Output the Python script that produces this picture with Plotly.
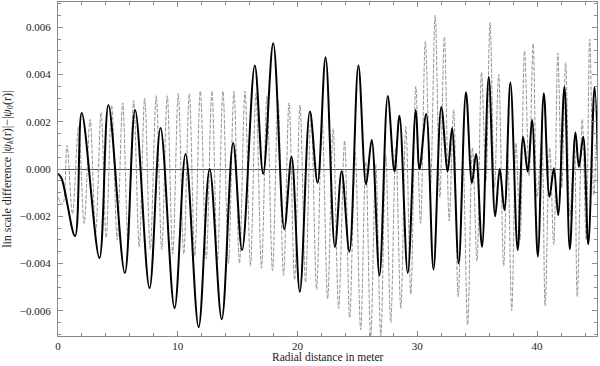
import plotly.graph_objects as go

# Extrema (radial distance in m, lin scale difference)
black_r = [0.0, 0.3, 1.42, 1.98, 3.46, 4.21, 5.58, 6.44, 7.64, 8.56, 9.73, 10.65,
           11.74, 12.66, 13.67, 14.62, 15.37, 16.43, 17.13, 17.97, 18.89, 19.5,
           20.19, 21.03, 21.67, 22.34, 23.12, 23.68, 24.33, 25.08, 25.72, 26.19,
           26.84, 27.53, 28.09, 28.51, 29.2, 29.87, 30.18, 30.74, 31.35, 32.0,
           32.53, 32.9, 33.45, 34.06, 34.56, 34.9, 35.4, 35.96, 36.5, 36.88,
           37.27, 37.77, 38.38, 38.83, 39.22, 39.58, 40.06, 40.56, 41.03, 41.4,
           41.76, 42.28, 42.73, 43.2, 43.49, 43.85, 44.27, 44.8, 45.2]
black_y = [-0.0002, -0.0004, -0.00284, 0.00237, -0.00377, 0.00271, -0.0044, 0.0025,
           -0.00504, 0.00174, -0.00589, 0.00064, -0.0067, 0.0, -0.00636, 0.0011,
           -0.00343, 0.00438, -0.0002, 0.00532, -0.00255, 0.00052, -0.0052, 0.00243,
           -0.00058, 0.00473, -0.0033, -0.0001, -0.0035, 0.00438, -0.00065, 0.00123,
           -0.0045, 0.00309, -0.0001, 0.00225, -0.0044, 0.0025, 0.0, 0.00233,
           -0.00425, 0.00263, -0.0001, 0.00173, -0.004, 0.00325, -0.00058, 0.00063,
           -0.0033, 0.0039, -0.002, 0.0, -0.00174, 0.00366, -0.00343, 0.00135,
           -0.00012, 0.00208, -0.0037, 0.00321, -0.00118, 0.00003, -0.00195, 0.00348,
           -0.0034, 0.00154, 0.0001, 0.00137, -0.00318, 0.00347, -0.0023]

gray_r = [0.0, 0.39, 0.75, 1.21, 1.72, 2.18, 2.68, 3.14, 3.60, 4.02, 4.48, 4.94,
          5.40, 5.86, 6.32, 6.78, 7.24, 7.70, 8.20, 8.66, 9.12, 9.58, 10.04, 10.50,
          10.96, 11.42, 11.88, 12.38, 12.85, 13.31, 13.77, 14.23, 14.69, 15.15,
          15.61, 16.07, 16.53, 16.99, 17.45, 17.91, 18.37, 18.83, 19.29, 19.75,
          20.21, 20.67, 21.13, 21.59, 22.05, 22.51, 22.97, 23.43, 23.93, 24.35,
          24.81, 25.27, 25.69, 26.11, 26.53, 26.95, 27.36, 27.78, 28.20, 28.62,
          29.04, 29.46, 29.87, 30.27, 30.67, 31.09, 31.49, 31.88, 32.26, 32.66,
          33.03, 33.41, 33.81, 34.20, 34.60, 34.98, 35.36, 35.73, 36.07, 36.44,
          36.79, 37.21, 37.53, 37.88, 38.24, 38.58, 38.95, 39.33, 39.67, 40.0,
          40.38, 40.67, 41.05, 41.39, 41.73, 42.06, 42.38, 42.74, 43.10, 43.35,
          43.77, 44.10, 44.39, 44.73, 45.06]
gray_y = [-0.0012, -0.0015, 0.0010, -0.0019, 0.0018, -0.0023, 0.0021, -0.0027,
          0.0024, -0.0029, 0.0027, -0.0030, 0.0028, -0.0032, 0.0029, -0.0033,
          0.0030, -0.0034, 0.0031, -0.0034, 0.0031, -0.0036, 0.0032, -0.0036,
          0.0032, -0.0037, 0.0033, -0.0038, 0.0033, -0.0039, 0.0033, -0.0040,
          0.0033, -0.0040, 0.0033, -0.0041, 0.0032, -0.0042, 0.0031, -0.0043,
          0.0029, -0.0045, 0.0028, -0.0047, 0.0027, -0.0048, 0.0024, -0.0051,
          0.0021, -0.0055, 0.0017, -0.0059, 0.0012, -0.0063, 0.0007, -0.0068,
          0.0003, -0.0071, 0.0002, -0.0071, 0.0006, -0.0065, 0.0009, -0.0059,
          0.0018, -0.0053, 0.0035, -0.0023, 0.0054, -0.0008, 0.0065, -0.0012,
          0.0056, -0.0022, 0.0025, -0.0054, 0.0003, -0.0066, 0.0009, -0.0039,
          0.0041, -0.0005, 0.0062, -0.0008, 0.0040, -0.0041, 0.0008, -0.0060,
          0.0011, -0.0030, 0.0050, -0.0003, 0.0053, -0.0012, 0.0012, -0.0058,
          0.0009, -0.0032, 0.0049, -0.0008, 0.0045, -0.0020, 0.0012, -0.0054,
          0.0021, -0.0030, 0.0055, -0.0011, 0.0030]

x_ticks = [0, 10, 20, 30, 40]
y_ticks = [-0.006, -0.004, -0.002, 0.0, 0.002, 0.004, 0.006]

FONT = 'Liberation Serif'
FRAME = '#8a8a8a'

fig = go.Figure()

fig.add_trace(go.Scatter(
    x=gray_r, y=gray_y, mode='lines',
    line=dict(color='#959595', width=1, dash='4px,1.5px', shape='spline', smoothing=1.0),
    hoverinfo='skip'
))

fig.add_trace(go.Scatter(
    x=black_r, y=black_y, mode='lines',
    line=dict(color='black', width=2, shape='spline', smoothing=1.0),
    hoverinfo='skip'
))

axis_common = dict(
    showgrid=False, automargin=False,
    showline=True, linecolor=FRAME, linewidth=1, mirror='allticks',
    ticks='inside', ticklen=5, tickcolor=FRAME, tickwidth=1,
    tickfont=dict(family=FONT, size=11, color='#222'),
)

fig.update_layout(
    width=600, height=366,
    paper_bgcolor='white', plot_bgcolor='white',
    showlegend=False,
    font=dict(family=FONT, size=11, color='#222'),
    margin=dict(l=58, r=3, t=2, b=30),
    xaxis=dict(
        range=[0, 45], tickvals=x_ticks,
        minor=dict(dtick=2, ticklen=3, tickcolor=FRAME, ticks='inside'),
        zeroline=False,
        **axis_common
    ),
    yaxis=dict(
        range=[-0.00707, 0.00707], tickvals=y_ticks, tickformat='.3f',
        minor=dict(dtick=0.0005, ticklen=3, tickcolor=FRAME, ticks='inside'),
        zeroline=True, zerolinecolor='#555', zerolinewidth=0.8,
        ticklabelstandoff=4,
        **axis_common
    ),
    annotations=[
        dict(text='Radial distance in meter', xref='paper', yref='paper',
             x=0.5, y=-0.063, xanchor='center', yanchor='middle',
             showarrow=False, font=dict(family=FONT, size=11.5, color='#222')),
        dict(text='lin scale difference |<i>ψ</i><sub><i>k</i></sub>(r)|−|<i>ψ</i><sub>0</sub>(r)|',
             xref='paper', yref='paper', x=-0.093, y=0.5, textangle=-90,
             xanchor='center', yanchor='middle',
             showarrow=False, font=dict(family=FONT, size=12, color='#222')),
    ],
)

fig.write_html("out.html", config={'displayModeBar': False},
               post_script="document.body.style.margin='0px';document.body.style.overflow='hidden';")
